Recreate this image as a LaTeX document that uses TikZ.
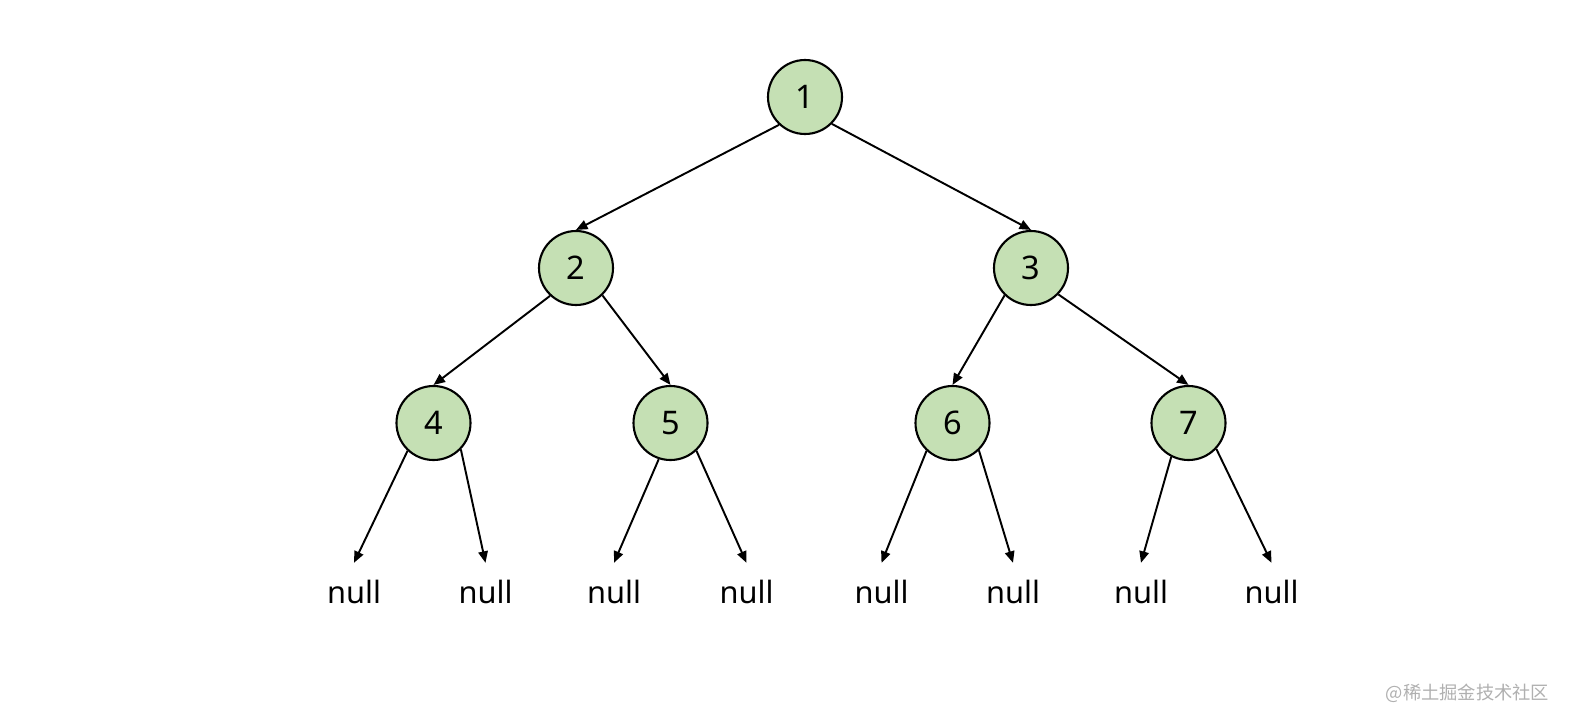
\documentclass[tikz,border=0pt]{standalone}
\usepackage{fontspec}
\setmainfont{Noto Sans}
\newfontfamily\cjk{Noto Sans CJK SC}
\usetikzlibrary{arrows.meta}
\definecolor{leafgreen}{RGB}{197,224,180}
\definecolor{markgray}{RGB}{176,176,176}
\tikzset{
	treenode/.style={circle, draw=black, line width=1.2pt, fill=leafgreen,
		minimum size=1.48cm, inner sep=0pt, font=\fontsize{18.5}{22}\selectfont},
	nullbox/.style={inner sep=0.34cm, font=\fontsize{17.5}{21}\selectfont},
	edge/.style={-{Triangle[length=2.3mm,width=1.9mm]}, line width=1.1pt}
}

\begin{document}
\begin{tikzpicture}
	\useasboundingbox (0,0) rectangle (31.4,-14.52);
	\node[treenode] (n1) at (16.10,-1.94) {1};
	\node[treenode] (n2) at (11.52,-5.36) {2};
	\node[treenode] (n3) at (20.62,-5.36) {3};
	\node[treenode] (n4) at (8.67,-8.46) {4};
	\node[treenode] (n5) at (13.41,-8.46) {5};
	\node[treenode] (n6) at (19.05,-8.46) {6};
	\node[treenode] (n7) at (23.77,-8.46) {7};
	\node[nullbox] (z1) at (7.08,-11.84) {null};
	\node[nullbox] (z2) at (9.71,-11.84) {null};
	\node[nullbox] (z3) at (12.28,-11.84) {null};
	\node[nullbox] (z4) at (14.93,-11.84) {null};
	\node[nullbox] (z5) at (17.63,-11.84) {null};
	\node[nullbox] (z6) at (20.26,-11.84) {null};
	\node[nullbox] (z7) at (22.82,-11.84) {null};
	\node[nullbox] (z8) at (25.43,-11.84) {null};
	\node[font=\cjk\fontsize{10.4}{12}\selectfont, text=markgray] (mark) at (29.35,-13.86) {@稀土掘金技术社区};
	\draw [edge] (n1.227) -- (n2.north);
	\draw [edge] (n1.-45) -- (n3.north);
	\draw [edge] (n2.227) -- (n4.north);
	\draw [edge] (n2.-46) -- (n5.north);
	\draw [edge] (n3.226) -- (n6.north);
	\draw [edge] (n3.-44) -- (n7.north);
	\draw [edge] (n4.227) -- (z1.north);
	\draw [edge] (n4.-44) -- (z2.north);
	\draw [edge] (n5.252) -- (z3.north);
	\draw [edge] (n5.-47) -- (z4.north);
	\draw [edge] (n6.227) -- (z5.north);
	\draw [edge] (n6.-46) -- (z6.north);
	\draw [edge] (n7.243) -- (z7.north);
	\draw [edge] (n7.-43) -- (z8.north);
\end{tikzpicture}
\end{document}
